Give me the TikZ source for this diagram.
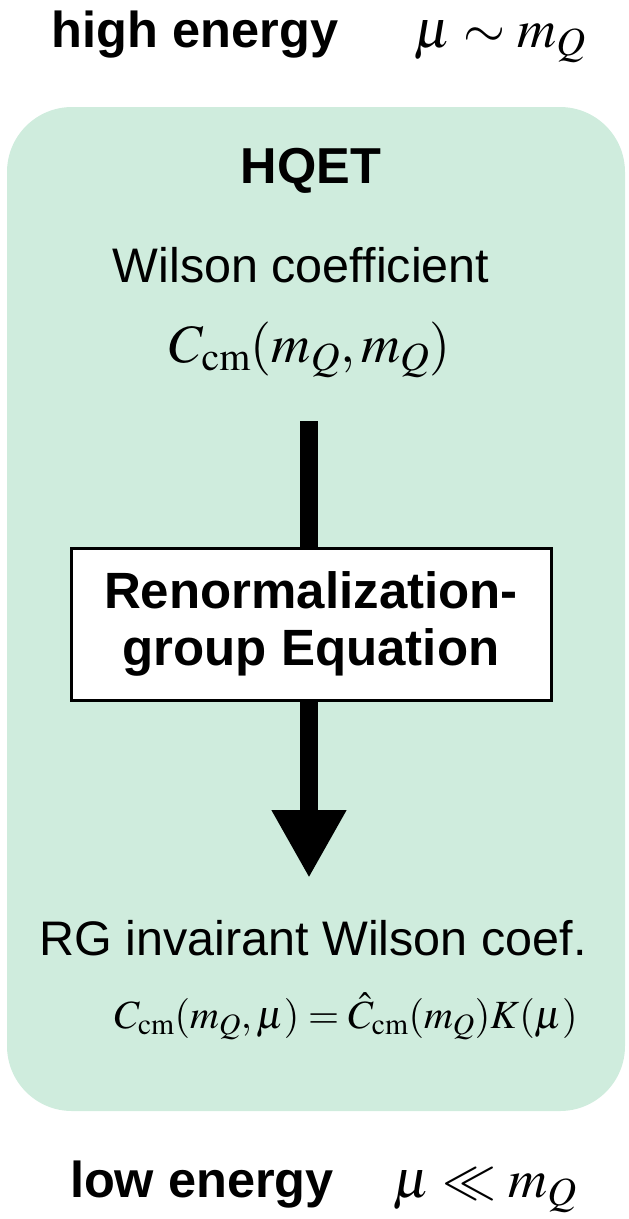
\documentclass[tikz,border=0pt]{standalone}
\usepackage{mathptmx}
\usepackage[no-math]{fontspec}
\setmainfont{Liberation Sans}
\usetikzlibrary{arrows.meta}
\definecolor{hqetgreen}{RGB}{207,236,221}
\tikzset{
  big/.style={font=\fontsize{48.5}{56}\selectfont, inner sep=0pt, anchor=base},
  bigb/.style={font=\fontsize{50.5}{57}\selectfont\bfseries, inner sep=0pt, anchor=base},
  mathbig/.style={font=\fontsize{54}{60}\selectfont, inner sep=0pt, anchor=base},
  mathsmall/.style={font=\fontsize{40}{46}\selectfont, inner sep=0pt, anchor=base},
  rgebox/.style={draw=black, line width=3pt, fill=white, minimum width=480pt, minimum height=152pt, align=center, font=\fontsize{51}{57}\selectfont\bfseries, inner sep=0pt},
  bigarrow/.style={line width=18pt, -{Triangle[length=68pt,width=70pt]}}
}
\begin{document}
\begin{tikzpicture}[x=1pt,y=-1pt]
\useasboundingbox (0,0) rectangle (629,1219);
\fill[hqetgreen, rounded corners=65pt] (7,107) rectangle (625,1111);
\node[bigb] (high) at (195,47) {high energy};
\node[mathbig] (highmu) at (500,47) {$\mu \sim m_Q$};
\node[bigb] (hqet) at (311,183) {HQET};
\node[big] (wilson) at (301,282) {Wilson coefficient};
\node[mathbig] (ccm) at (310,362) {$C_{\mathrm{cm}}(m_Q,m_Q)$};
\coordinate (astart) at (309,421);
\coordinate (aend) at (309,878);
\draw[bigarrow] (astart) -- (aend);
\node[rgebox] (rge) at (311,624) {Renormalization-\\group Equation};
\node[big] (rginv) at (313,955) {RG invairant Wilson coef.};
\node[mathsmall] (formula) at (346,1028) {$C_{\mathrm{cm}}(m_Q,\mu) = \hat{C}_{\mathrm{cm}}(m_Q)K(\mu)$};
\node[bigb] (low) at (202,1197) {low energy};
\node[mathbig] (lowmu) at (485,1197) {$\mu \ll m_Q$};
\end{tikzpicture}
\end{document}
